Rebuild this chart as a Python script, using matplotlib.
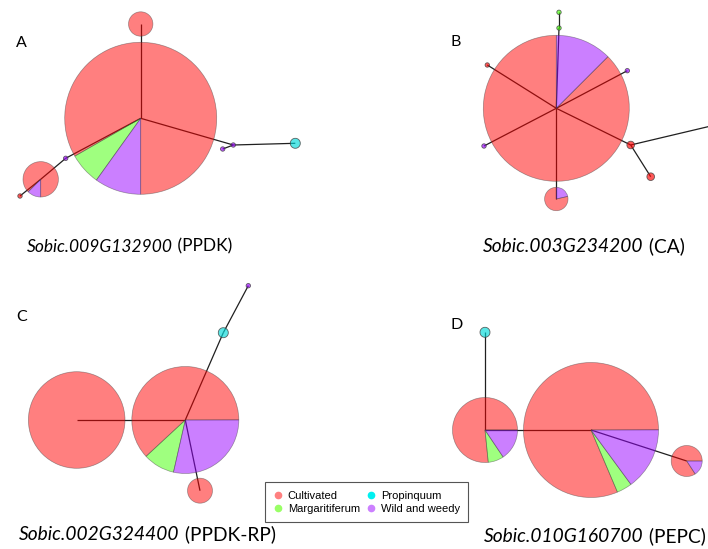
import matplotlib.pyplot as plt
from matplotlib.patches import Wedge
from matplotlib.lines import Line2D

# groups and their colours
groups = ['Cultivated', 'Margaritiferum', 'Propinquum', 'Wild and weedy']
pie_cols = [(1.0, 0.0, 0.0), (0.25, 1.0, 0.0), (0.0, 0.85, 0.85), (0.6, 0.0, 1.0)]
legend_cols = ['#ff8080', '#99ff66', '#00f0f0', '#cc80ff']

# ---- network A : Sobic.009G132900 (PPDK)
a_x = [140.7, 140.7, 40.7, 65.7, 20.0, 233.3, 222.7, 295.3]
a_y = [118.3, 24.0, 179.3, 158.3, 196.0, 145.0, 149.0, 143.3]
a_size = [76, 12.2, 17.7, 2.2, 2.2, 2.2, 2.2, 5.0]
a_freq = [(0.833, 0.068, 0, 0.099), (1, 0, 0, 0), (0.875, 0, 0, 0.125), (0, 0, 0, 1),
          (1, 0, 0, 0), (0, 0, 0, 1), (0, 0, 0, 1), (0, 0, 1, 0)]
a_links = [(0, 1), (0, 3), (3, 2), (2, 4), (0, 5), (5, 6), (5, 7)]

# ---- network B : Sobic.003G234200 (CA)
b_x = [556.3, 559.0, 559.0, 487.3, 627.3, 484.0, 630.7, 650.7, 556.3, 760.0]
b_y = [108.3, 28.0, 12.3, 65.0, 70.7, 146.0, 145.0, 176.7, 199.0, 114.4]
b_size = [73, 2.2, 2.2, 2.2, 2.2, 2.2, 3.8, 3.8, 11.7, 3.8]
b_freq = [(0.875, 0, 0, 0.125), (0, 1, 0, 0), (0, 1, 0, 0), (1, 0, 0, 0), (0, 0, 0, 1),
          (0, 0, 0, 1), (1, 0, 0, 0), (1, 0, 0, 0), (0.786, 0, 0, 0.214), (1, 0, 0, 0)]
b_links = [(0, 1), (1, 2), (0, 3), (0, 4), (0, 5), (0, 6), (6, 7), (6, 9), (0, 8)]

# ---- network C : Sobic.002G324400 (PPDK-RP)
c_x = [76.7, 185.3, 223.3, 248.3, 200.0]
c_y = [420.0, 420.0, 332.7, 285.7, 490.7]
c_size = [48.3, 53.5, 5.0, 2.2, 12.5]
c_freq = [(1, 0, 0, 0), (0.619, 0.0955, 0, 0.286), (0, 0, 1, 0), (0, 0, 0, 1), (1, 0, 0, 0)]
c_links = [(0, 1), (1, 2), (2, 3), (1, 4)]

# ---- network D : Sobic.010G160700 (PEPC)
d_x = [591.0, 485.0, 686.7, 485.0]
d_y = [430.0, 430.0, 461.0, 332.3]
d_size = [67.5, 32.5, 15.5, 5.0]
d_freq = [(0.814, 0.0367, 0, 0.15), (0.766, 0.078, 0, 0.156), (0.842, 0, 0, 0.158), (0, 0, 1, 0)]
d_links = [(3, 1), (1, 0), (0, 2)]

panels = [
    ('A', (16.0, 43.0), 'Sobic.009G132900', ' (PPDK)', (26.7, 246.7), 12.5, a_x, a_y, a_size, a_freq, a_links, 270),
    ('B', (451.0, 41.7), 'Sobic.003G234200', ' (CA)', (483.3, 246.7), 13.8, b_x, b_y, b_size, b_freq, b_links, 90),
    ('C', (16.0, 316.7), 'Sobic.002G324400', ' (PPDK-RP)', (19.3, 535.0), 13.8, c_x, c_y, c_size, c_freq, c_links, 0),
    ('D', (451.0, 325.0), 'Sobic.010G160700', ' (PEPC)', (484.0, 536.7), 13.8, d_x, d_y, d_size, d_freq, d_links, 0),
]

fig = plt.figure(figsize=(7.08, 5.49), dpi=100)
ax = fig.add_axes([0, 0, 1, 1])
ax.set_xlim(0, 708)
ax.set_ylim(549, 0)
ax.axis('off')

cap_font = ['Lato', 'DejaVu Sans']


def draw_node(x, y, r, freq, start):
    small = r < 8
    alpha = 0.65 if small else 0.5
    a = start
    for f, c in zip(freq, pie_cols):
        if f <= 0:
            continue
        span = 360 * f
        # y axis is inverted, so flip the angles to keep screen ccw order
        w = Wedge((x, y), r, -(a + span), -a, facecolor=c + (alpha,),
                  edgecolor=(0.25, 0.25, 0.25, 0.8 if small else 0.5),
                  linewidth=0.6 if small else 0.5, zorder=3 if small else 2)
        ax.add_patch(w)
        a += span


for lab, lab_xy, gene, tail, cap_xy, cap_fs, xs, ys, sz, fr, links, start in panels:
    for i, j in links:
        ax.plot([xs[i], xs[j]], [ys[i], ys[j]], color='#202020', lw=0.9, zorder=1,
                solid_capstyle='butt')
    order = sorted(range(len(xs)), key=lambda k: -sz[k])
    for k in order:
        draw_node(xs[k], ys[k], sz[k], fr[k], start)
    ax.text(lab_xy[0], lab_xy[1], lab, fontsize=11.5, family=cap_font,
            ha='left', va='center', color='black')
    t1 = ax.text(cap_xy[0], cap_xy[1], gene, fontsize=cap_fs, style='italic',
                 family=cap_font, ha='left', va='center')
    ax.annotate(tail, xy=(1, 0), xycoords=t1, fontsize=cap_fs, family=cap_font,
                ha='left', va='bottom')

handles = [Line2D([], [], marker='o', ls='', markersize=4.5, markerfacecolor=c,
                  markeredgecolor=c) for c in legend_cols]
leg = ax.legend(handles, groups, ncol=2, loc='upper left',
                bbox_to_anchor=(265 / 708, 1 - 482.3 / 549), bbox_transform=ax.transAxes,
                prop={'family': 'Liberation Sans', 'size': 8.0},
                frameon=True, fancybox=False, framealpha=1, edgecolor='#555555',
                borderpad=0.75, columnspacing=0.6, handletextpad=0.5,
                labelspacing=0.3, handlelength=0.8, borderaxespad=0)
leg.get_frame().set_linewidth(0.8)

fig.savefig('out.png', dpi=100)
